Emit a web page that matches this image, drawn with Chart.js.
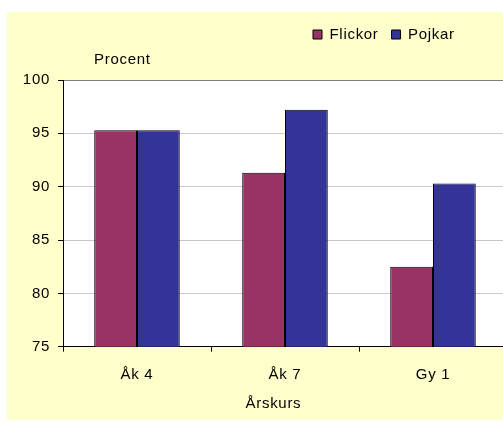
<!DOCTYPE html>
<html lang="sv">
<head>
<meta charset="utf-8">
<title>Procent per årskurs</title>
<script src="https://cdn.jsdelivr.net/npm/chart.js@4/dist/chart.umd.min.js"></script>
<style>
  html, body { margin: 0; padding: 0; background: #ffffff; }
  #wrap { width: 503px; height: 421px; overflow: hidden; position: relative; }
  canvas { display: block; }
</style>
</head>
<body>
<div id="wrap"><canvas id="chart" width="507" height="421"></canvas></div>
<script>
// Data
const categories = ['Åk 4', 'Åk 7', 'Gy 1'];
const seriesNames = ['Flickor', 'Pojkar'];
const flickor = [95.3, 91.3, 82.5];
const pojkar = [95.3, 97.2, 90.3];
const yMin = 75;
const yMax = 100;
const yStep = 5;
const yLabel = 'Procent';
const xLabel = 'Årskurs';

const FONT = "'Liberation Sans', Arial, sans-serif";
const SPACING = '0.7px';

// Wider letter spacing for all canvas text
const spacingPlugin = {
  id: 'spacing',
  afterInit(chart) { chart.ctx.letterSpacing = SPACING; },
  beforeLayout(chart) { chart.ctx.letterSpacing = SPACING; },
  beforeDraw(chart) { chart.ctx.letterSpacing = SPACING; }
};

// Pale yellow chart background with a white plot area
const backgroundPlugin = {
  id: 'panel',
  beforeDraw(chart) {
    const { ctx, chartArea } = chart;
    ctx.save();
    ctx.fillStyle = '#FFFFCC';
    ctx.fillRect(7, 12, chart.width - 7, 408);
    ctx.fillStyle = '#FFFFFF';
    ctx.fillRect(chartArea.left, chartArea.top, chartArea.right - chartArea.left, chartArea.bottom - chartArea.top);
    ctx.restore();
  },
  afterDraw(chart) {
    const { ctx } = chart;
    ctx.save();
    ctx.letterSpacing = SPACING;
    ctx.font = '15px ' + FONT;
    ctx.fillStyle = '#000000';
    ctx.textAlign = 'left';
    ctx.textBaseline = 'alphabetic';
    ctx.fillText(yLabel, 94, 64);
    ctx.restore();
  }
};

// Place the legend in the upper right part of the panel
const legendPlacePlugin = {
  id: 'legendPlace',
  afterLayout(chart) {
    const lg = chart.legend;
    if (!lg) return;
    const h = lg.bottom - lg.top;
    const w = lg.right - lg.left;
    lg.top = 14;
    lg.bottom = 14 + h;
    lg.left = 300;
    lg.right = 300 + w;
  }
};

new Chart(document.getElementById('chart'), {
  type: 'bar',
  data: {
    labels: categories,
    datasets: [
      { label: seriesNames[0], data: flickor, backgroundColor: '#993366', borderColor: '#000000', borderWidth: 1 },
      { label: seriesNames[1], data: pojkar, backgroundColor: '#333399', borderColor: '#000000', borderWidth: 1 }
    ]
  },
  options: {
    responsive: false,
    animation: false,
    devicePixelRatio: 1,
    layout: { padding: { top: 42, left: 0, right: 0, bottom: 0 } },
    datasets: {
      bar: { categoryPercentage: 0.578, barPercentage: 1.0 }
    },
    plugins: {
      legend: {
        display: true,
        position: 'top',
        align: 'start',
        labels: {
          boxWidth: 9,
          boxHeight: 9,
          padding: 13,
          color: '#000000',
          font: { family: FONT, size: 15 }
        }
      },
      tooltip: { enabled: false },
      title: { display: false }
    },
    scales: {
      x: {
        offset: true,
        grid: {
          display: true,
          offset: true,
          drawOnChartArea: false,
          drawTicks: true,
          tickLength: 5,
          tickColor: '#000000',
          lineWidth: 1
        },
        border: { display: true, color: '#000000', width: 1 },
        ticks: {
          color: '#000000',
          font: { family: FONT, size: 15 },
          padding: 14,
          maxRotation: 0
        },
        title: {
          display: true,
          text: xLabel + '    \u2009',
          color: '#000000',
          font: { family: FONT, size: 15 },
          padding: { top: 4, bottom: 8 }
        },
        afterFit(scale) { scale.height = 74.3; }
      },
      y: {
        min: yMin,
        max: yMax,
        grid: {
          color: (ctx) => (ctx.tick && ctx.tick.value === yMax) ? '#808080' : '#C8C8C8',
          drawTicks: true,
          tickLength: 5,
          tickColor: '#000000',
          lineWidth: 1
        },
        border: { display: true, color: '#000000', width: 1 },
        ticks: {
          stepSize: yStep,
          color: '#000000',
          font: { family: FONT, size: 15 },
          padding: 8
        },
        afterFit(scale) { scale.width = 63; }
      }
    }
  },
  plugins: [spacingPlugin, backgroundPlugin, legendPlacePlugin]
});
</script>
</body>
</html>
